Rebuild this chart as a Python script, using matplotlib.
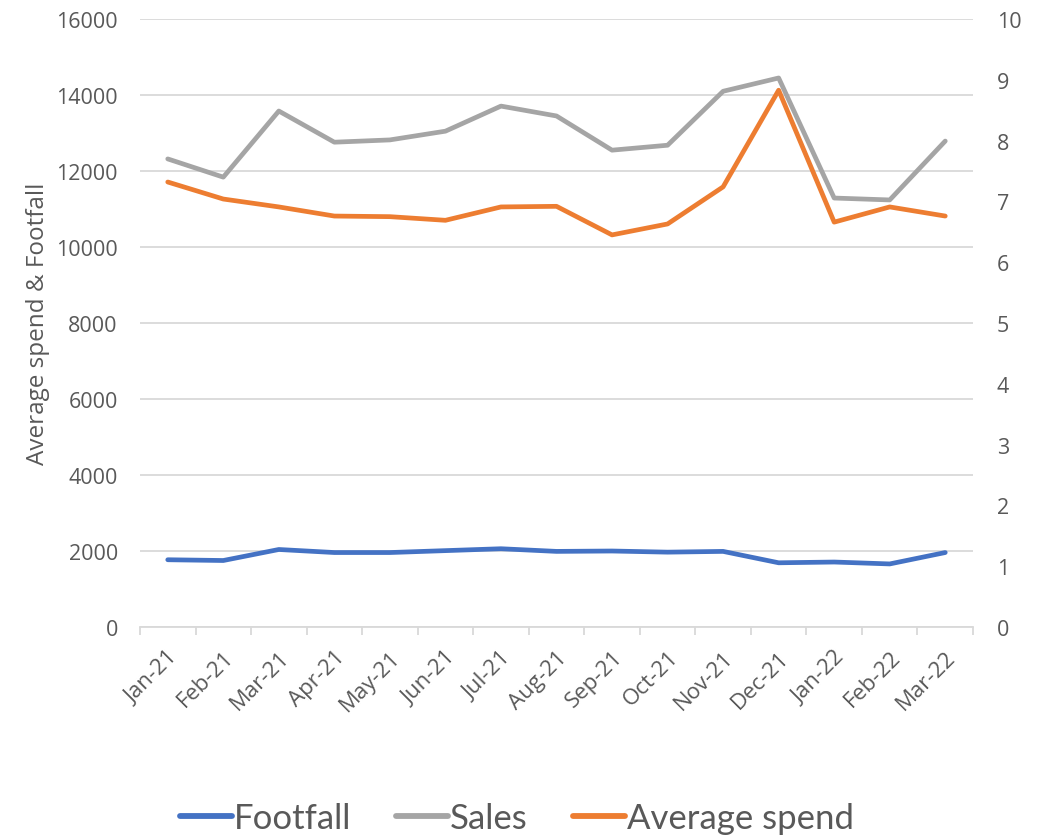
import numpy as np
import matplotlib.pyplot as plt
from matplotlib.ticker import FixedLocator

months = ["Jan-21", "Feb-21", "Mar-21", "Apr-21", "May-21", "Jun-21", "Jul-21",
          "Aug-21", "Sep-21", "Oct-21", "Nov-21", "Dec-21", "Jan-22", "Feb-22", "Mar-22"]
footfall = [1770, 1750, 2040, 1960, 1960, 2010, 2060, 1990, 2000, 1970, 1990, 1690, 1710, 1660, 1960]
sales = [12320, 11840, 13580, 12760, 12820, 13050, 13710, 13450, 12550, 12680, 14100, 14450, 11290, 11240, 12790]
avg_spend = [7.32, 7.04, 6.91, 6.76, 6.75, 6.69, 6.91, 6.92, 6.45, 6.63, 7.24, 8.83, 6.66, 6.91, 6.76]

TXT = "#595959"
GRID = "#d9d9d9"

fig = plt.figure(figsize=(10.4, 8.37), dpi=100)
ax = fig.add_axes([0.1346, 0.2497, 0.801, 0.7263])
ax2 = ax.twinx()

x = np.arange(len(months))
l1, = ax.plot(x, footfall, color="#4472C4", lw=3.4, solid_capstyle="round", label="Footfall")
l2, = ax.plot(x, sales, color="#A5A5A5", lw=3.4, solid_capstyle="round", label="Sales")
l3, = ax2.plot(x, avg_spend, color="#ED7D31", lw=3.4, solid_capstyle="round", label="Average spend")

ax.set_ylim(0, 16000)
ax.set_yticks(np.arange(0, 16001, 2000))
ax2.set_ylim(0, 10)
ax2.set_yticks(np.arange(0, 11, 1))
ax.set_xlim(-0.5, len(months) - 0.5)

ax.grid(axis="y", color=GRID, lw=1.3)
ax.set_axisbelow(True)
for a in (ax, ax2):
    for s in ["top", "left", "right"]:
        a.spines[s].set_visible(False)
    a.spines["bottom"].set_color(GRID)
    a.spines["bottom"].set_linewidth(1.3)
ax2.spines["bottom"].set_visible(False)

ax.set_xticks(x)
ax.set_xticklabels(months, rotation=45, ha="right", rotation_mode="anchor",
                   fontsize=16, color=TXT, family="Open Sans")
ax.xaxis.set_minor_locator(FixedLocator(np.arange(-0.5, len(months), 1)))
ax.tick_params(axis="x", which="major", length=0, pad=14)
ax.tick_params(axis="x", which="minor", length=6, color=GRID, width=1.3)
ax.tick_params(axis="y", length=0, pad=16, labelsize=15.5, labelcolor=TXT)
ax2.tick_params(axis="y", length=0, pad=17, labelsize=15.5, labelcolor=TXT)
for lab in ax.get_yticklabels() + ax2.get_yticklabels():
    lab.set_family("Open Sans")

ax.set_ylabel("Average spend & Footfall", fontsize=17.5, color=TXT, family="Open Sans", labelpad=4)

leg = fig.legend(handles=[l1, l2, l3], loc="lower center", bbox_to_anchor=(0.497, -0.035),
                 ncol=3, frameon=False, handlelength=1.5, handletextpad=0.05,
                 columnspacing=1.3, prop={"family": "Lato", "size": 25})
for t in leg.get_texts():
    t.set_color(TXT)
for h in leg.legend_handles:
    h.set_linewidth(4.2)

fig.savefig("out.png", dpi=100)
